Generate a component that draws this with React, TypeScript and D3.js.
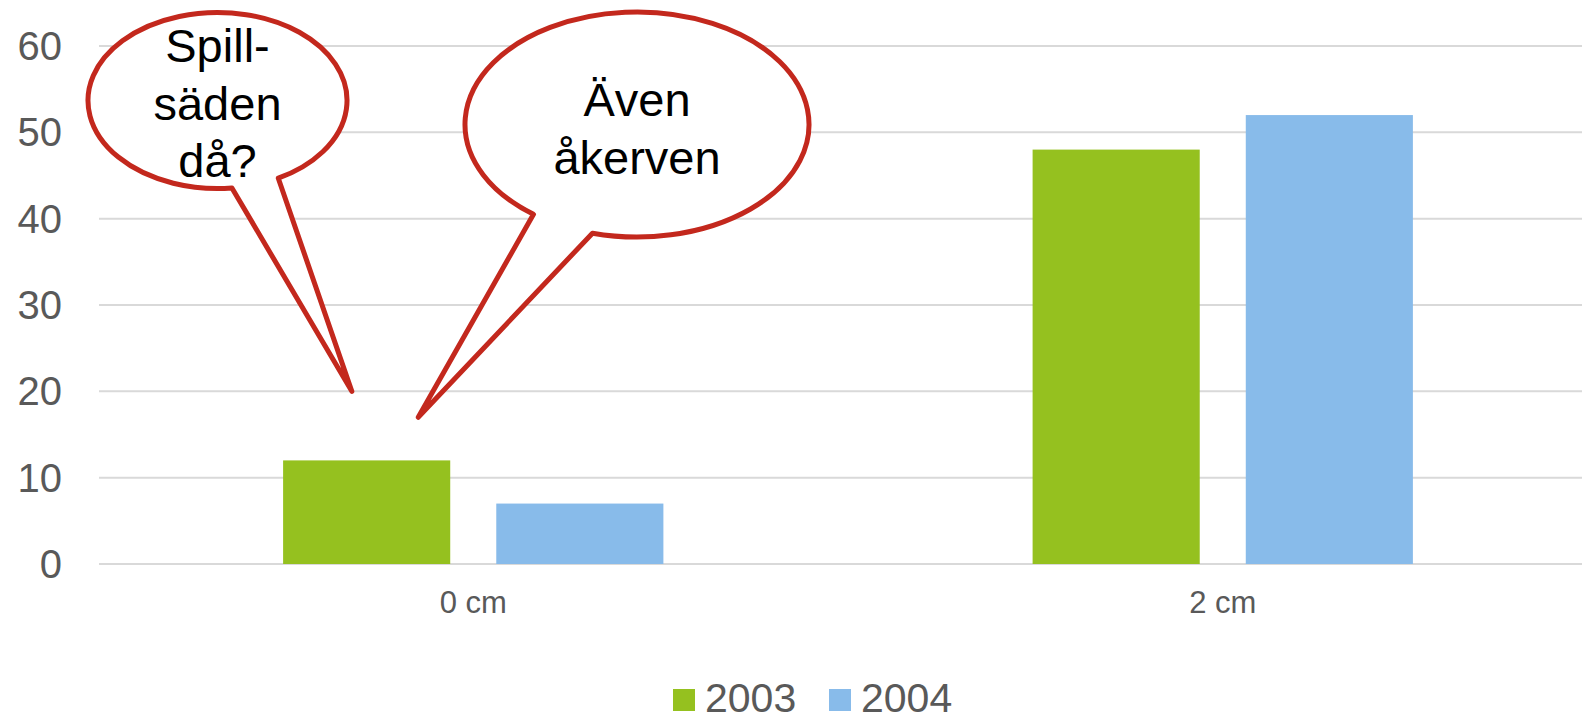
import * as d3 from 'd3'

// chart data
const categories = ['0 cm', '2 cm']
const seriesNames = ['2003', '2004']
const values2003 = [12, 48]
const values2004 = [7, 52]
const yTicks = [0, 10, 20, 30, 40, 50, 60]

const colors: Record<string, string> = { '2003': '#95c11f', '2004': '#88bbea' }

// callout annotations (tip = [fraction of first band, value])
const callouts = [
  { lines: ['Spill-', 'säden', 'då?'], cx: 217.5, cy: 100.5, rx: 129.5, ry: 88, a1: 83.6, a2: 62, tip: [0.338, 20], textY: 62 },
  { lines: ['Även', 'åkerven'], cx: 637, cy: 124.5, rx: 172, ry: 112.5, a1: 127, a2: 105, tip: [0.4266, 17], textY: 116 },
]

const W = 1582
const H = 715
const font = '"Liberation Sans", Arial, sans-serif'

export default function App() {
  const x0 = d3.scaleBand<string>().domain(categories).range([98.5, 1597.5])
  const x1 = d3.scaleBand<string>().domain(seriesNames).range([0, x0.bandwidth()])
    .paddingInner(0.216).paddingOuter(0.866)
  const y = d3.scaleLinear().domain([0, 60]).range([564, 46])

  const series = [values2003, values2004]

  const calloutPath = (c: typeof callouts[number]) => {
    const pt = (deg: number) => {
      const a = (deg * Math.PI) / 180
      return [c.cx + c.rx * Math.cos(a), c.cy + c.ry * Math.sin(a)]
    }
    const A = pt(c.a1)
    const B = pt(c.a2)
    const tx = x0.range()[0] + c.tip[0] * x0.bandwidth()
    const ty = y(c.tip[1])
    return `M${A[0]},${A[1]} A${c.rx},${c.ry} 0 1 1 ${B[0]},${B[1]} L${tx},${ty} Z`
  }

  return (
    <svg width={W} height={H} style={{ position: 'absolute', left: 0, top: 0, display: 'block', background: '#fff' }}>
      {/* gridlines */}
      {yTicks.map(t => (
        <line key={t} x1={99} x2={W} y1={y(t)} y2={y(t)} stroke="#d9d9d9" strokeWidth={2} />
      ))}
      {/* y tick labels */}
      {yTicks.map(t => (
        <text key={t} x={62} y={y(t)} dy="0.35em" textAnchor="end" fontFamily={font} fontSize={40} fill="#595959">{t}</text>
      ))}
      {/* bars */}
      {categories.map((cat, i) => (
        <g key={cat} transform={`translate(${x0(cat)},0)`}>
          {seriesNames.map((s, j) => (
            <rect key={s} x={x1(s)} y={y(series[j][i])} width={x1.bandwidth()} height={y(0) - y(series[j][i])} fill={colors[s]} />
          ))}
        </g>
      ))}
      {/* category labels */}
      {categories.map(cat => (
        <text key={cat} x={(x0(cat) ?? 0) + x0.bandwidth() / 2} y={613} textAnchor="middle" fontFamily={font} fontSize={31} fill="#595959">{cat}</text>
      ))}
      {/* legend */}
      {seriesNames.map((s, j) => {
        const lx = [673, 829][j]
        return (
          <g key={s}>
            <rect x={lx} y={689} width={22} height={22} fill={colors[s]} />
            <text x={lx + 32} y={712} fontFamily={font} fontSize={41} fill="#595959">{s}</text>
          </g>
        )
      })}
      {/* callouts */}
      {callouts.map((c, k) => (
        <g key={k}>
          <path d={calloutPath(c)} fill="#fff" stroke="#c3281d" strokeWidth={5} strokeLinejoin="round" />
          {c.lines.map((l, li) => (
            <text key={li} x={c.cx} y={c.textY + li * 57.5} textAnchor="middle" fontFamily={font} fontSize={47} fill="#000">{l}</text>
          ))}
        </g>
      ))}
    </svg>
  )
}
